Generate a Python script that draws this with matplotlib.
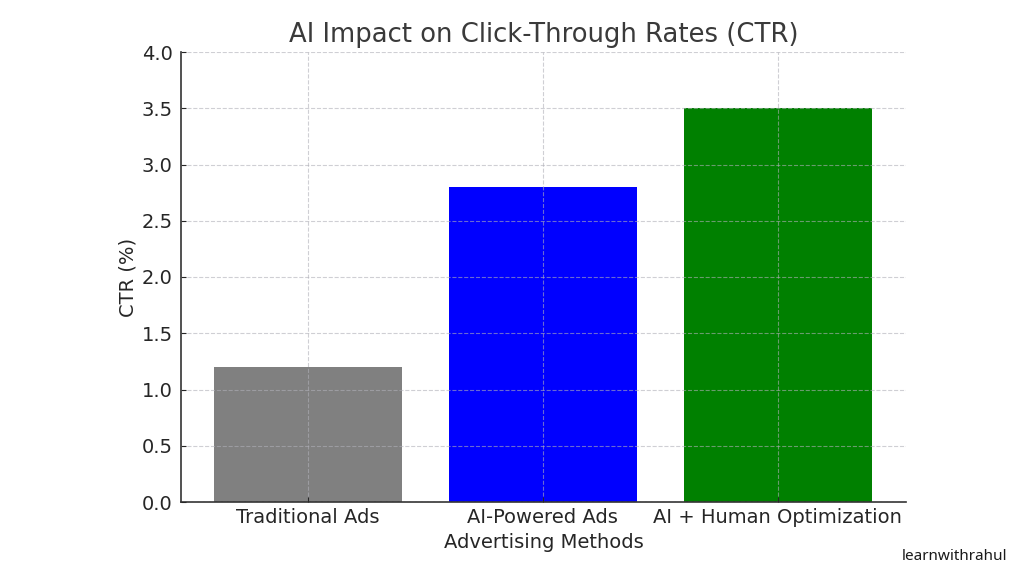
import matplotlib
matplotlib.use('Agg')
import matplotlib.pyplot as plt

# chart data
methods = ['Traditional Ads', 'AI-Powered Ads', 'AI + Human Optimization']
ctr = [1.2, 2.8, 3.5]
colors = ['gray', 'blue', 'green']
yticks = [0.0, 0.5, 1.0, 1.5, 2.0, 2.5, 3.0, 3.5, 4.0]

fig = plt.figure(figsize=(10.24, 5.76), dpi=100)
ax = fig.add_axes([181 / 1024, 1 - 502 / 576, (906 - 181) / 1024, (502 - 52) / 576])

ax.bar(methods, ctr, color=colors, width=0.8, zorder=2)
ax.set_axisbelow(False)  # grid runs over the bars
ax.grid(True, linestyle='--', color='#b0b0b8', alpha=0.6, linewidth=0.8)

ax.set_ylim(0, 4)
ax.set_xlim(-0.54, 2.545)
ax.set_yticks(yticks)
ax.tick_params(axis='both', labelsize=14, colors='#262626', length=3.5, direction='in')
ax.tick_params(axis='x', pad=4)
ax.tick_params(axis='y', pad=6)

ax.spines['top'].set_visible(False)
ax.spines['right'].set_visible(False)
ax.spines['left'].set_color('#333333')
ax.spines['bottom'].set_color('#333333')
ax.spines['left'].set_linewidth(1.2)
ax.spines['bottom'].set_linewidth(1.2)

ax.set_title('AI Impact on Click-Through Rates (CTR)', fontsize=18.6, color='#3a3a3a', pad=7)
ax.set_xlabel('Advertising Methods', fontsize=14, color='#262626', labelpad=5)
ax.set_ylabel('CTR (%)', fontsize=14, color='#262626', labelpad=3)

fig.text(902 / 1024, 1 - 556 / 576, 'learnwithrahul', fontsize=11, family='Noto Sans', color='#1a1a1a', va='center')

fig.savefig('out.png', dpi=100)
